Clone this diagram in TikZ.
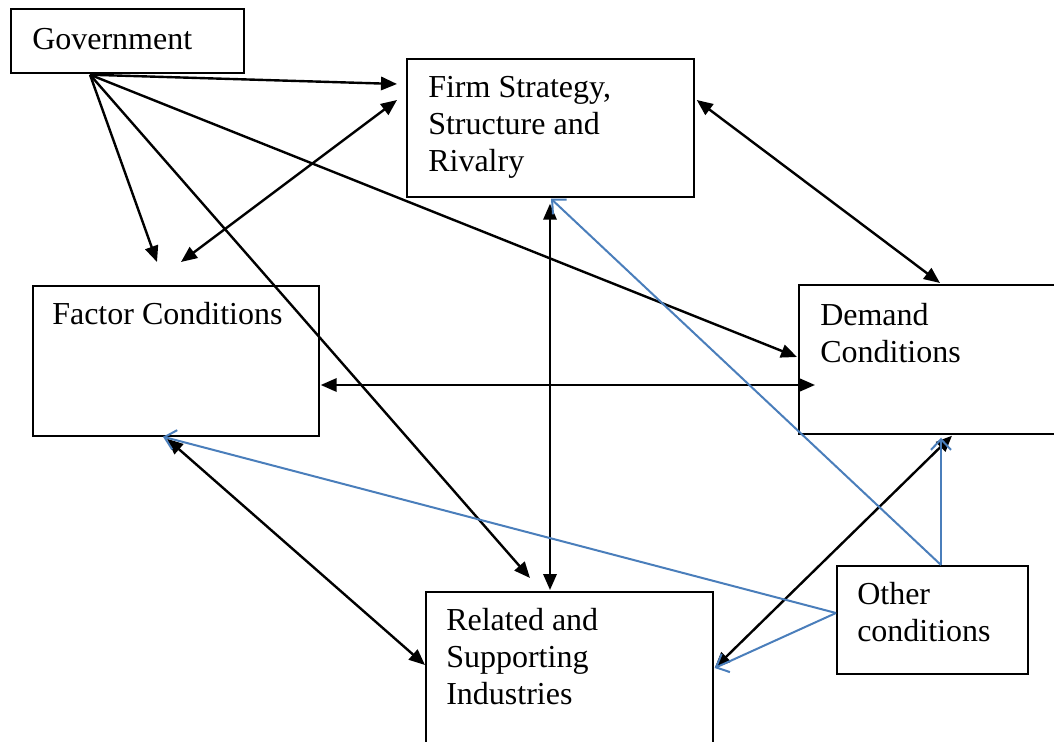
\documentclass[tikz,border=0pt]{standalone}
\usepackage{fontspec}
\setmainfont{Liberation Serif}
\usetikzlibrary{arrows.meta,calc}
\definecolor{linkblue}{RGB}{74,126,187}
\def\px{0.75pt}
\tikzset{
  box/.style={draw=black, line width=1.3pt, rectangle, inner sep=0pt, anchor=north west, fill=none},
  txt/.style={inner sep=0pt, font=\fontsize{24pt}{27.75pt}\selectfont, align=left},
  blk/.style={line width=1.8pt, -{Triangle[length=12pt,width=10pt]}},
  blkboth/.style={line width=1.8pt, {Triangle[length=12pt,width=10pt]}-{Triangle[length=12pt,width=10pt]}},
  blu/.style={draw=linkblue, line width=1.5pt, -{Straight Barb[length=8pt,width=15pt,line width=1.5pt]}}
}
\begin{document}
\begin{tikzpicture}[x=0.75pt,y=-0.75pt]
\clip (0,0) rectangle (1054,742);
\fill[white] (0,0) rectangle (1054,742);
% boxes
\node[box, minimum width=233*\px, minimum height=64*\px] (gov) at (10,8) {};
\node[box, minimum width=287*\px, minimum height=138*\px] (firm) at (406,58) {};
\node[box, minimum width=286*\px, minimum height=150*\px] (factor) at (32,285) {};
\node[box, minimum width=262*\px, minimum height=149*\px] (demand) at (798,284) {};
\node[box, minimum width=287*\px, minimum height=160*\px] (related) at (425,591) {};
\node[box, minimum width=191*\px, minimum height=108*\px] (other) at (836,565) {};
% texts
\node[txt, anchor=base west] (govt) at (32,50) {Government};
\node[txt, anchor=north west] (firmt) at (428,76) {Firm Strategy,\\Structure and\\Rivalry};
\node[txt, anchor=base west] (factort) at (52,324) {Factor Conditions};
\node[txt, anchor=north west] (demandt) at (820,303) {Demand\\Conditions};
\node[txt, anchor=north west] (relatedt) at (446,608) {Related and\\Supporting\\Industries};
\node[txt, anchor=north west] (othert) at (857,582) {Other\\conditions};
% black arrows from Government
\draw[blk] ($(gov.south west)+(80,1)$) -- ($(firm.north west)+(-9,26)$);
\draw[blk] ($(gov.south west)+(80,1)$) -- ($(factor.north west)+(125,-23)$);
\draw[blk] ($(gov.south west)+(80,1)$) -- ($(related.north west)+(105,-13)$);
\draw[blk] ($(gov.south west)+(80,1)$) -- ($(demand.north west)+(-1,73)$);
% black double arrows
\draw[blkboth] ($(factor.north west)+(149,-23)$) -- ($(firm.north west)+(-9,42)$);
\draw[blkboth] ($(firm.north east)+(2,42)$) -- ($(demand.north west)+(142,-1)$);
\draw[blkboth] ($(firm.south west)+(144,6)$) -- ($(related.north west)+(125,-1)$);
\draw[blkboth] ($(factor.north east)+(1,100)$) -- ($(demand.north west)+(17,101)$);
\draw[blkboth] ($(factor.south west)+(135,2)$) -- ($(related.north west)+(0,74)$);
\draw[blkboth] ($(demand.south west)+(154,1)$) -- ($(related.north east)+(1,77)$);
% blue arrows from Other conditions
\draw[blu] ($(other.north west)+(105,0)$) -- ($(firm.south west)+(145,1)$);
\draw[blu] ($(other.north west)+(105,0)$) -- ($(demand.south west)+(143,3)$);
\draw[blu] ($(other.north west)+(0,48)$) -- ($(factor.south west)+(131,0)$);
\draw[blu] ($(other.north west)+(0,48)$) -- ($(related.north east)+(1,77)$);
\end{tikzpicture}
\end{document}
